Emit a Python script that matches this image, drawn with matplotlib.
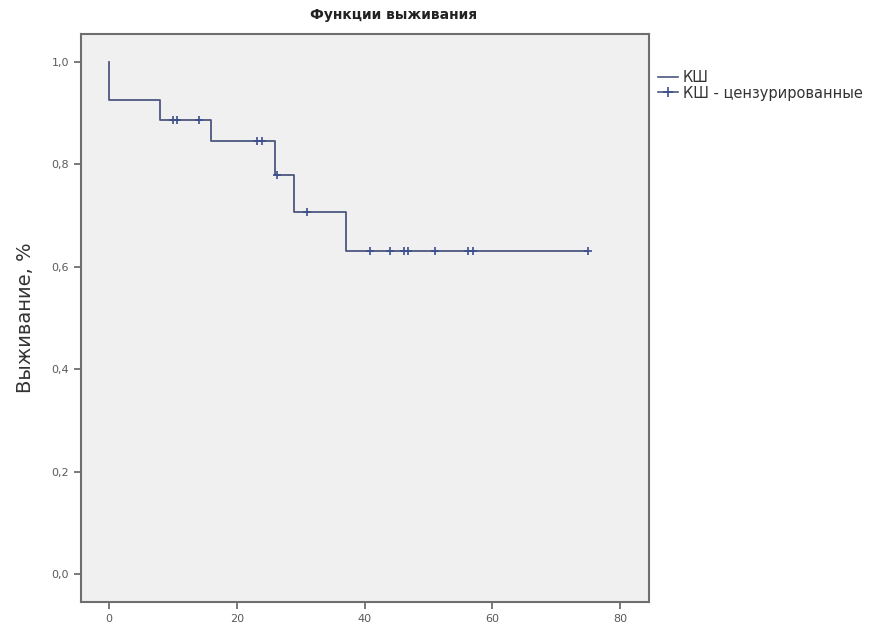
import numpy as np
import matplotlib
matplotlib.use('Agg')
import matplotlib.pyplot as plt
from matplotlib.lines import Line2D

# step points of the survival function (time, survival after the step)
event_times = [0, 0, 8, 16, 26, 29, 37, 75]
event_surv = [1.0, 0.926, 0.887, 0.845, 0.779, 0.707, 0.630, 0.630]

# censored observations
cens_times = [10, 10.6, 14, 23.1, 23.9, 26.3, 30.9, 40.9, 43.9, 46.1, 46.8, 51, 56.2, 56.9, 75]
cens_surv = [0.887, 0.887, 0.887, 0.845, 0.845, 0.779, 0.707, 0.630, 0.630, 0.630, 0.630,
             0.630, 0.630, 0.630, 0.630]

xticks = [0, 20, 40, 60, 80]
yticks = [0.0, 0.2, 0.4, 0.6, 0.8, 1.0]
ytick_labels = ['0,0', '0,2', '0,4', '0,6', '0,8', '1,0']

line_color = '#4d5880'
marker_color = '#3d4f8c'
spine_color = '#6e6e6e'

fig = plt.figure(figsize=(8.96, 6.32), dpi=100)
ax = fig.add_axes([81 / 896, 1 - 602 / 632, (649 - 81) / 896, (602 - 34) / 632])
ax.set_facecolor('#f0f0f0')

ax.step(event_times, event_surv, where='post', color=line_color, lw=1.3)
ax.plot(cens_times, cens_surv, ls='none', marker='+', ms=6, mew=1.2, color=marker_color)

ax.set_xlim(-4.4, 84.5)
ax.set_ylim(-0.055, 1.055)
ax.set_xticks(xticks)
ax.set_xticklabels([str(t) for t in xticks])
ax.set_yticks(yticks)
ax.set_yticklabels(ytick_labels)
ax.tick_params(direction='out', length=5, width=1.3, color=spine_color,
               labelsize=8, labelcolor='#5a5a5a')
for s in ax.spines.values():
    s.set_color(spine_color)
    s.set_linewidth(1.5)

ax.set_ylabel('Выживание, %', fontsize=14, color='#333333', labelpad=12)
fig.text(394 / 896, 1 - 15 / 632, 'Функции выживания', ha='center', va='center',
         fontsize=10, fontweight='bold', color='#222222')

handles = [
    Line2D([0], [0], color=line_color, lw=1.2, drawstyle='steps-mid'),
    Line2D([0], [0], color=line_color, lw=1.2, marker='+', ms=7, mew=1.2, mec=marker_color),
]
fig.legend(handles, ['КШ', 'КШ - цензурированные'], loc='upper left',
           bbox_to_anchor=(652 / 896, 1 - 64 / 632), frameon=False, fontsize=10.5,
           handlelength=1.4, handletextpad=0.3, labelspacing=0.05, borderaxespad=0,
           labelcolor='#333333')

fig.savefig('out.png', dpi=100, facecolor='white')
